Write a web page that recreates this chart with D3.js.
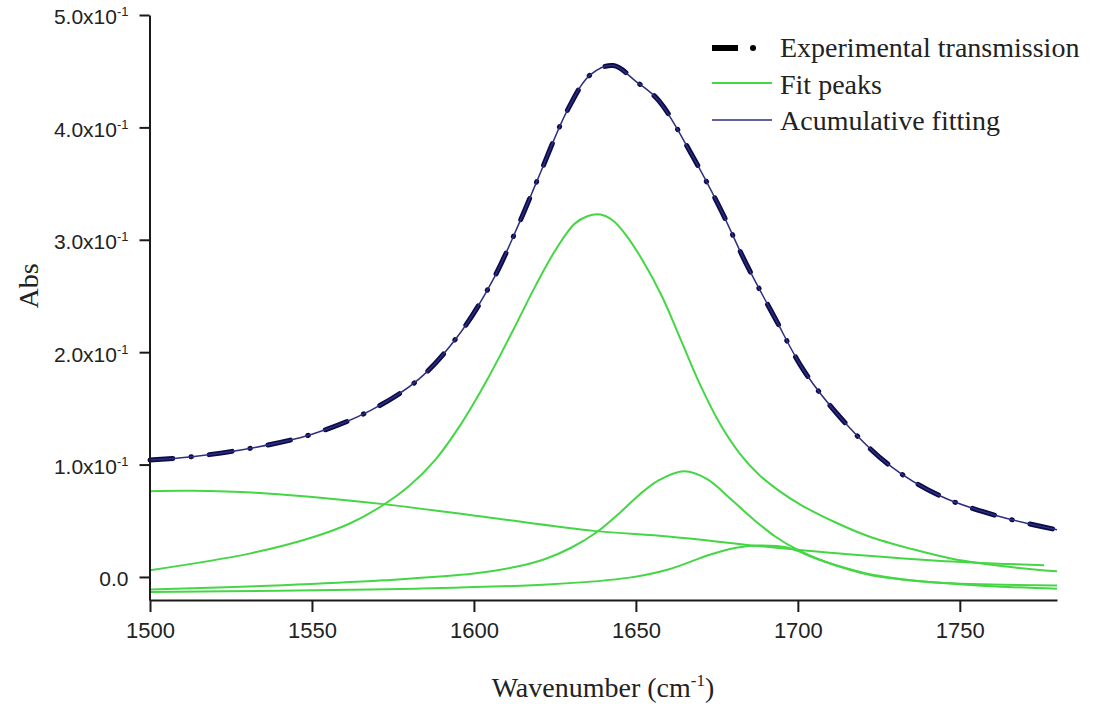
<!DOCTYPE html>
<html>
<head>
<meta charset="utf-8">
<script src="https://cdn.jsdelivr.net/npm/d3@7"></script>
<style>
  html, body { margin: 0; padding: 0; background: #fff; }
  svg { display: block; }
</style>
</head>
<body>
<svg id="chart" width="1096" height="707"></svg>
<script>
// values
var expWave = [1500, 1513, 1532, 1550, 1568, 1583, 1596, 1606, 1614, 1620, 1629, 1636, 1643, 1650, 1657, 1667, 1676, 1684, 1693, 1702, 1714, 1728, 1744, 1762, 1780];
var expAbs  = [0.104, 0.107, 0.115, 0.127, 0.148, 0.176, 0.218, 0.265, 0.315, 0.356, 0.416, 0.447, 0.455, 0.441, 0.424, 0.377, 0.328, 0.279, 0.230, 0.183, 0.139, 0.100, 0.072, 0.054, 0.042];
var fitAbs  = [0.104, 0.107, 0.115, 0.127, 0.148, 0.176, 0.218, 0.265, 0.315, 0.356, 0.416, 0.447, 0.455, 0.441, 0.424, 0.377, 0.328, 0.279, 0.230, 0.183, 0.139, 0.100, 0.072, 0.054, 0.042];

var peak1Wave = [1500, 1531, 1551, 1562, 1572, 1580, 1588, 1596, 1604, 1612, 1619, 1625, 1631, 1635, 1639, 1643, 1647, 1652, 1658, 1664, 1670, 1676, 1682, 1688, 1694, 1701, 1712, 1722, 1735, 1748, 1765, 1780];
var peak1Abs  = [0.006, 0.021, 0.036, 0.048, 0.064, 0.081, 0.104, 0.136, 0.175, 0.219, 0.259, 0.290, 0.314, 0.321, 0.3225, 0.317, 0.304, 0.282, 0.250, 0.210, 0.170, 0.136, 0.110, 0.091, 0.077, 0.064, 0.048, 0.036, 0.025, 0.016, 0.009, 0.005];

var peak2Wave = [1500, 1541, 1572, 1600, 1613, 1622, 1630, 1638, 1645, 1651, 1657, 1665, 1672, 1679, 1686, 1693, 1700, 1708, 1716, 1725, 1735, 1758, 1780];
var peak2Abs  = [-0.0112, -0.0074, -0.003, 0.003, 0.009, 0.016, 0.026, 0.040, 0.057, 0.073, 0.086, 0.094, 0.087, 0.070, 0.052, 0.036, 0.024, 0.014, 0.007, 0.001, -0.003, -0.008, -0.0105];

var peak3Wave = [1500, 1540, 1582, 1624, 1648, 1660, 1673, 1681, 1688, 1697, 1706, 1722, 1743, 1780];
var peak3Abs  = [-0.0134, -0.0122, -0.0104, -0.0065, -0.0006, 0.0066, 0.020, 0.026, 0.028, 0.026, 0.016, 0.002, -0.005, -0.0075];

var peak4Wave = [1500, 1513, 1536, 1572, 1603, 1637, 1660, 1688, 1712, 1743, 1776];
var peak4Abs  = [0.0763, 0.0766, 0.0743, 0.0648, 0.0535, 0.041, 0.036, 0.0275, 0.021, 0.0145, 0.0104];

var xTicks = [1500, 1550, 1600, 1650, 1700, 1750];
var yTicks = [0, 0.1, 0.2, 0.3, 0.4, 0.5];
var yTickBase = ["0.0", "1.0x10", "2.0x10", "3.0x10", "4.0x10", "5.0x10"];
var yTickExp  = ["", "-1", "-1", "-1", "-1", "-1"];

var legendLabels = ["Experimental transmission", "Fit peaks", "Acumulative fitting"];

var green = "#45d645", navy = "#2e2e80", dark = "#0b0b48";

var svg = d3.select("#chart");
svg.append("rect").attr("width", 1096).attr("height", 707).attr("fill", "#fff");

var x = d3.scaleLinear().domain([1500, 1780]).range([150, 1057]);
var y = d3.scaleLinear().domain([-0.0205, 0.5]).range([600, 15]);

function pts(w, a) { return w.map(function (d, i) { return [d, a[i]]; }); }

var line = d3.line()
    .x(function (d) { return x(d[0]); })
    .y(function (d) { return y(d[1]); })
    .curve(d3.curveCatmullRom.alpha(0.5));

// fit peaks
[[peak4Wave, peak4Abs], [peak1Wave, peak1Abs], [peak2Wave, peak2Abs], [peak3Wave, peak3Abs]].forEach(function (p) {
  svg.append("path")
      .attr("d", line(pts(p[0], p[1])))
      .attr("fill", "none")
      .attr("stroke", green)
      .attr("stroke-width", 2);
});

// experimental, dash-dot
svg.append("path")
    .attr("d", line(pts(expWave, expAbs)))
    .attr("fill", "none")
    .attr("stroke", dark)
    .attr("stroke-width", 5)
    .attr("stroke-linecap", "round")
    .attr("stroke-dasharray", "23,18,0.5,18");

// accumulative fit
svg.append("path")
    .attr("d", line(pts(expWave, fitAbs)))
    .attr("fill", "none")
    .attr("stroke", navy)
    .attr("stroke-width", 1.5);

// axes
var xAxis = svg.append("g")
    .attr("transform", "translate(0,600)")
    .call(d3.axisBottom(x).tickValues(xTicks).tickSize(12).tickSizeOuter(0).tickPadding(10).tickFormat(d3.format("d")));

var yAxis = svg.append("g")
    .attr("transform", "translate(149.5,0)")
    .call(d3.axisLeft(y).tickValues(yTicks).tickSize(10).tickSizeOuter(0).tickPadding(11));

[xAxis, yAxis].forEach(function (g) {
  g.select(".domain").attr("stroke", "#1a1a1a").attr("stroke-width", 2);
  g.selectAll(".tick line").attr("stroke", "#1a1a1a").attr("stroke-width", 2);
});

xAxis.selectAll("text")
    .attr("font-family", "'Liberation Sans', Arial, sans-serif")
    .attr("font-size", 22)
    .attr("fill", "#222");

yAxis.selectAll(".tick text").each(function (d, i) {
  var t = d3.select(this);
  t.text(null)
      .attr("dy", "0.42em")
      .attr("font-family", "'Liberation Sans', Arial, sans-serif")
      .attr("font-size", 21)
      .attr("fill", "#222");
  t.append("tspan").text(yTickBase[i]);
  if (yTickExp[i]) t.append("tspan").attr("font-size", 13).attr("dy", -8).text(yTickExp[i]);
});

// axis titles
var xt = svg.append("text")
    .attr("x", 603).attr("y", 697)
    .attr("text-anchor", "middle")
    .attr("font-family", "'Liberation Serif', 'Times New Roman', serif")
    .attr("font-size", 28)
    .attr("fill", "#222");
xt.append("tspan").text("Wavenumber (cm");
xt.append("tspan").attr("font-size", 17).attr("dy", -11).text("-1");
xt.append("tspan").attr("dy", 11).text(")");

svg.append("text")
    .attr("transform", "translate(38,286) rotate(-90)")
    .attr("text-anchor", "middle")
    .attr("font-family", "'Liberation Serif', 'Times New Roman', serif")
    .attr("font-size", 28)
    .attr("fill", "#222")
    .text("Abs");

// legend
var legend = svg.append("g")
    .attr("font-family", "'Liberation Serif', 'Times New Roman', serif")
    .attr("font-size", 28)
    .attr("fill", "#222");

legend.append("line").attr("x1", 712).attr("x2", 738).attr("y1", 48).attr("y2", 48)
    .attr("stroke", "#000").attr("stroke-width", 6);
legend.append("circle").attr("cx", 753).attr("cy", 48).attr("r", 3).attr("fill", "#000");
legend.append("line").attr("x1", 712).attr("x2", 772).attr("y1", 83).attr("y2", 83)
    .attr("stroke", green).attr("stroke-width", 2);
legend.append("line").attr("x1", 712).attr("x2", 772).attr("y1", 120).attr("y2", 120)
    .attr("stroke", navy).attr("stroke-width", 1.5);

legend.selectAll("text.lab")
    .data(legendLabels)
  .enter().append("text")
    .attr("class", "lab")
    .attr("x", 780)
    .attr("y", function (d, i) { return 57 + i * 36.5; })
    .text(function (d) { return d; });
</script>
</body>
</html>
